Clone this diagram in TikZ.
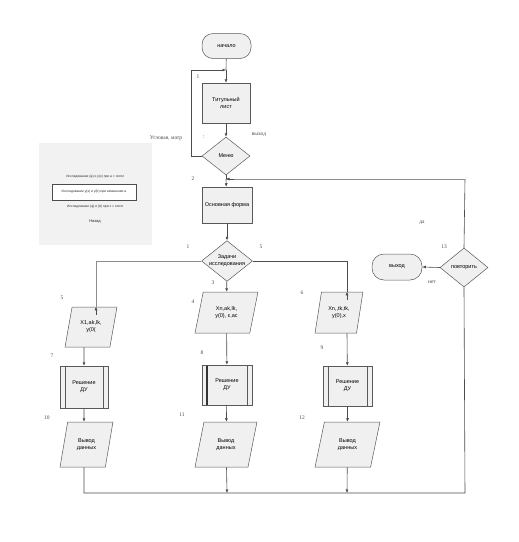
\documentclass[tikz,border=0pt]{standalone}
\usepackage{fontspec}
\setmainfont{Liberation Serif}
\newfontfamily\nodefont{Liberation Sans}
\usetikzlibrary{shapes.geometric,arrows.meta,calc}
\tikzset{
  base/.style={draw=black!65, fill=black!6, line width=0.5pt, font=\nodefont\fontsize{5.5}{7}\selectfont, align=center, inner sep=0pt},
  term/.style={base, rectangle, rounded corners=11pt, minimum width=49pt, minimum height=25pt},
  proc/.style={base, rectangle, minimum width=48pt, minimum height=40pt},
  dec/.style={base, diamond, aspect=1.25, minimum width=49pt, minimum height=38pt},
  io/.style={base, trapezium, trapezium left angle=72, trapezium right angle=108, trapezium stretches=true, minimum height=40pt},
  subr/.style={proc, path picture={
      \draw[black!65] ([xshift=5pt]path picture bounding box.north west) -- ([xshift=5pt]path picture bounding box.south west);
      \draw[black!65] ([xshift=-5pt]path picture bounding box.north east) -- ([xshift=-5pt]path picture bounding box.south east);}},
  subrthick/.style={proc, path picture={
      \draw[black!80, line width=1.6pt] ([xshift=5pt]path picture bounding box.north west) -- ([xshift=5pt]path picture bounding box.south west);
      \draw[black!65] ([xshift=-5pt]path picture bounding box.north east) -- ([xshift=-5pt]path picture bounding box.south east);}},
  conn/.style={draw=black!70, line width=0.6pt},
  arr/.style={conn, -{Latex[length=3.5pt,width=3pt]}},
  gconn/.style={draw=black!45, line width=1pt},
  lbl/.style={font=\fontsize{5.5}{6.5}\selectfont, text=black!70, inner sep=0pt},
  leg/.style={font=\nodefont\fontsize{3.3}{4}\selectfont, inner sep=0pt, text=black!85}
}
\begin{document}
\begin{tikzpicture}[x=1pt,y=-1pt]
\fill[white] (0,0) rectangle (519,542);
\useasboundingbox (0,0) rectangle (519,542);

% legend panel
\fill[black!5] (39,143) rectangle (152,245);
\node[leg] (l1) at (95,177) {Исследование (φ) и y(x) при a = const};
\node[leg, draw=black!70, fill=white, minimum width=84pt, minimum height=16pt] (l2) at (94,192) {Исследование y(x) и y(b) при изменении a};
\node[leg] (l3) at (95,207) {Исследование (φ) и (b) при x = const};
\node[leg, font=\nodefont\fontsize{4}{5}\selectfont] (l4) at (95,222) {Назад};

% main column
\node[term] (start) at (226.5,46) {начало};
\node[proc, minimum width=48pt] (title) at (226,103) {Титульный\\лист};
\node[dec, minimum width=48pt] (menu) at (226,156) {Меню};
\node[proc, minimum width=50pt, minimum height=36pt] (mainf) at (227,205) {Основная форма};
\node[dec, minimum width=50pt] (tasks) at (227,261) {Задачи\\исследования};

% left column
\node[io, minimum width=52pt] (p1) at (91,327) {X1,ak,lk,\\y(0(};
\node[subr, minimum width=48pt, minimum height=42pt] (s1) at (84,387) {Решение\\ДУ};
\node[io, minimum width=53pt, minimum height=45pt] (o1) at (86.5,444.5) {Вывод\\данных};

% middle column
\node[io, minimum width=63pt, minimum height=41pt] (p2) at (226.5,312.5) {Xn,ak,lk,\\y(0), ε,ac};
\node[subrthick, minimum width=50pt, minimum height=40pt] (s2) at (227,385) {Решение\\ДУ};
\node[io, minimum width=62pt, minimum height=45pt] (o2) at (226,444.5) {Вывод\\данных};

% right column
\node[io, minimum width=48pt, minimum height=41pt] (p3) at (339,312.5) {Xn,,tk,tk,\\y(0),x};
\node[subr, minimum width=49pt, minimum height=40pt] (s3) at (347.5,386) {Решение\\ДУ};
\node[io, minimum width=65pt, minimum height=45pt] (o3) at (347.5,444.5) {Вывод\\данных};

% repeat / exit
\node[dec, minimum width=48pt, minimum height=39pt, aspect=1.2] (rep) at (464,267.5) {повторить};
\node[term, minimum width=50pt, minimum height=26pt, rounded corners=12pt] (exitn) at (397,267) {выход};

% coordinates
\coordinate (loopin) at (226,70);
\coordinate (back) at (226,179);
\coordinate (bl) at (84,493);
\coordinate (br) at (465,493);
\coordinate (tr) at (465,179);
\coordinate (m2) at (227,493);
\coordinate (m3) at (347,493);

% connectors
\draw[conn] (start) -- (loopin);
\draw[arr] (loopin) -- (title);
\draw[arr] (title) -- (menu);
\draw[arr] (menu.west) -- ++(-10,0) |- (loopin);
\draw[conn] (menu) -- (back);
\draw[arr] (back) -- (mainf);
\draw[arr] (mainf) -- (tasks);
\draw[gconn] (tasks.west) -| ([xshift=5pt]p1.north);
\draw[arr] ([xshift=5pt,yshift=-8pt]p1.north) -- ([xshift=5pt]p1.north);
\draw[arr] (tasks) -- (p2);
\draw[conn] (tasks.east) -| ([xshift=8pt]p3.north);
\draw[arr] ([xshift=8pt,yshift=-8pt]p3.north) -- ([xshift=8pt]p3.north);
\draw[arr] ([xshift=-7pt]p1.south) -- (s1);
\draw[arr] (s1) -- ([xshift=-2.5pt]o1.north);
\draw[arr] (p2) -- (s2);
\draw[arr] (s2) -- (o2);
\draw[arr] ([xshift=8pt]p3.south) -- (s3);
\draw[arr] (s3) -- (o3);
\draw[conn] ([xshift=-2.5pt]o1.south) -- (bl) -- (br) -- (rep.south);
\draw[arr] ([xshift=0.5pt]o2.south) -- (m2);
\draw[arr] (o3) -- (m3);
\draw[conn] (rep.north) -- (tr);
\draw[gconn] (tr) -- (back);
\draw[arr] (226,179) ++(8,0) -- (back);
\draw[arr] (rep.west) -- (exitn.east);

% labels
\node[lbl] (t1) at (198,77) {1};
\node[lbl] (t2) at (166,138) {Угловая, матр};
\node[lbl] (t3) at (204,137) {:};
\node[lbl] (t4) at (259,135) {выход};
\node[lbl] (t5) at (193,179) {2};
\node[lbl] (t6) at (188,247) {1};
\node[lbl] (t7) at (261,247) {5};
\node[lbl] (t8) at (213,283) {3};
\node[lbl] (t9) at (62,298) {5};
\node[lbl] (t10) at (193,302) {4};
\node[lbl] (t11) at (302,293) {6};
\node[lbl] (t12) at (52,356) {7};
\node[lbl] (t13) at (202,353) {8};
\node[lbl] (t14) at (322,348) {9};
\node[lbl] (t15) at (47,418) {10};
\node[lbl] (t16) at (182,415) {11};
\node[lbl] (t17) at (302,418) {12};
\node[lbl] (t18) at (444,247) {13};
\node[lbl] (t19) at (422,223) {да};
\node[lbl] (t20) at (432,282) {нет};
\end{tikzpicture}
\end{document}
